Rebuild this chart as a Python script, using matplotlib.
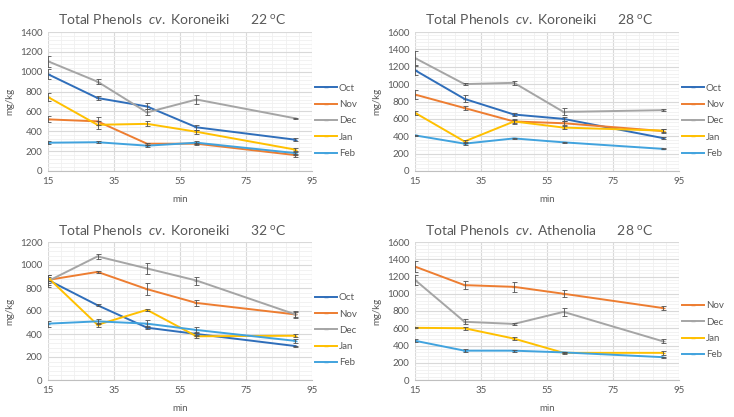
import numpy as np
import matplotlib
matplotlib.use('Agg')
import matplotlib.pyplot as plt
from matplotlib.ticker import MultipleLocator

plt.rcParams['font.family'] = ['Lato', 'DejaVu Sans']
plt.rcParams['mathtext.fontset'] = 'custom'
plt.rcParams['mathtext.it'] = 'Lato:italic'
plt.rcParams['mathtext.rm'] = 'Lato'

# ---- data ----
minutes = [15, 30, 45, 60, 90]
x_ticks = [15, 35, 55, 75, 95]

colors = {'Oct': '#2F6EBA', 'Nov': '#ED7D31', 'Dec': '#A5A5A5',
          'Jan': '#FFC000', 'Feb': '#41A3DE'}

# Koroneiki 22 C
k22 = {
    'Oct': [975, 735, 650, 440, 315],
    'Nov': [520, 500, 275, 275, 160],
    'Dec': [1105, 900, 590, 720, 530],
    'Jan': [745, 465, 475, 395, 215],
    'Feb': [285, 290, 255, 285, 180],
}
k22_err = {
    'Oct': [50, 20, 30, 25, 15],
    'Nov': [30, 40, 10, 10, 15],
    'Dec': [55, 25, 30, 45, 5],
    'Jan': [40, 40, 25, 20, 15],
    'Feb': [15, 10, 10, 15, 15],
}

# Koroneiki 28 C
k28 = {
    'Oct': [1160, 830, 650, 600, 380],
    'Nov': [880, 725, 570, 550, 460],
    'Dec': [1300, 1000, 1015, 680, 700],
    'Jan': [670, 340, 570, 500, 465],
    'Feb': [410, 315, 375, 330, 255],
}
k28_err = {
    'Oct': [50, 40, 15, 20, 10],
    'Nov': [55, 20, 15, 20, 25],
    'Dec': [80, 15, 20, 40, 15],
    'Jan': [20, 20, 25, 15, 20],
    'Feb': [10, 15, 10, 5, 5],
}

# Koroneiki 32 C
k32 = {
    'Oct': [870, 650, 455, 400, 295],
    'Nov': [870, 940, 790, 670, 570],
    'Dec': [860, 1075, 970, 865, 570],
    'Jan': [890, 480, 610, 380, 385],
    'Feb': [490, 510, 490, 435, 340],
}
k32_err = {
    'Oct': [40, 10, 15, 20, 5],
    'Nov': [30, 10, 50, 25, 20],
    'Dec': [50, 20, 50, 35, 30],
    'Jan': [25, 15, 10, 15, 15],
    'Feb': [25, 20, 30, 30, 20],
}

# Athenolia 28 C
a28 = {
    'Nov': [1315, 1100, 1080, 1000, 835],
    'Dec': [1160, 675, 650, 790, 450],
    'Jan': [605, 600, 480, 315, 315],
    'Feb': [455, 340, 340, 320, 265],
}
a28_err = {
    'Nov': [60, 45, 55, 40, 25],
    'Dec': [60, 30, 10, 45, 20],
    'Jan': [5, 15, 20, 10, 25],
    'Feb': [15, 15, 10, 10, 5],
}

panels = [
    ('Koroneiki', '22', k22, k22_err, 1400),
    ('Koroneiki', '28', k28, k28_err, 1600),
    ('Koroneiki', '32', k32, k32_err, 1200),
    ('Athenolia', '28', a28, a28_err, 1600),
]

W, H = 734, 417
fig = plt.figure(figsize=(W / 100, H / 100), dpi=100)
boxes = [(48, 32, 312, 171), (415, 32, 679, 171),
         (48, 242, 312, 380), (415, 242, 679, 380)]

txt = '#595959'
for (cv, temp, data, err, ymax), (x0, y0, x1, y1) in zip(panels, boxes):
    ax = fig.add_axes([x0 / W, 1 - y1 / H, (x1 - x0) / W, (y1 - y0) / H])
    for name, vals in data.items():
        ax.plot(minutes, vals, color=colors[name], lw=1.4, label=name,
                marker='_', ms=3, zorder=3)
        ax.errorbar(minutes, vals, yerr=err[name], fmt='none', ecolor='#505050',
                    elinewidth=0.6, capsize=1.8, capthick=0.6, zorder=4)
    ax.set_xlim(15, 95)
    ax.set_ylim(0, ymax)
    ax.set_xticks(x_ticks)
    ax.set_xticks(np.arange(15, 96, 4), minor=True)
    ax.yaxis.set_major_locator(MultipleLocator(200))
    ax.yaxis.set_minor_locator(MultipleLocator(40))
    ax.grid(which='major', color='#D9D9D9', lw=0.8)
    ax.grid(which='minor', color='#F0F0F0', lw=0.6)
    ax.set_axisbelow(True)
    for s in ['top', 'right', 'left']:
        ax.spines[s].set_visible(False)
    ax.spines['bottom'].set_color('#BFBFBF')
    ax.tick_params(which='both', length=0, labelsize=7, colors=txt, pad=4)
    ax.set_xlabel('min', fontsize=7, color=txt, labelpad=7)
    ax.set_ylabel('mg/kg', fontsize=7, color=txt, labelpad=4)
    ax.text(0.47, 1.09, r'Total Phenols  $\it{cv.}$ ' + cv + '      ' + temp + r' $^{\rm o}$C',
            transform=ax.transAxes, ha='center', va='center', fontsize=10, color=txt)
    leg = ax.legend(loc='center left', bbox_to_anchor=(0.995, 0.36), frameon=False,
                    fontsize=7, labelspacing=0.75, handlelength=2.3,
                    handletextpad=0.2, borderaxespad=0)
    for t in leg.get_texts():
        t.set_color(txt)

fig.savefig('out.png', dpi=100)
